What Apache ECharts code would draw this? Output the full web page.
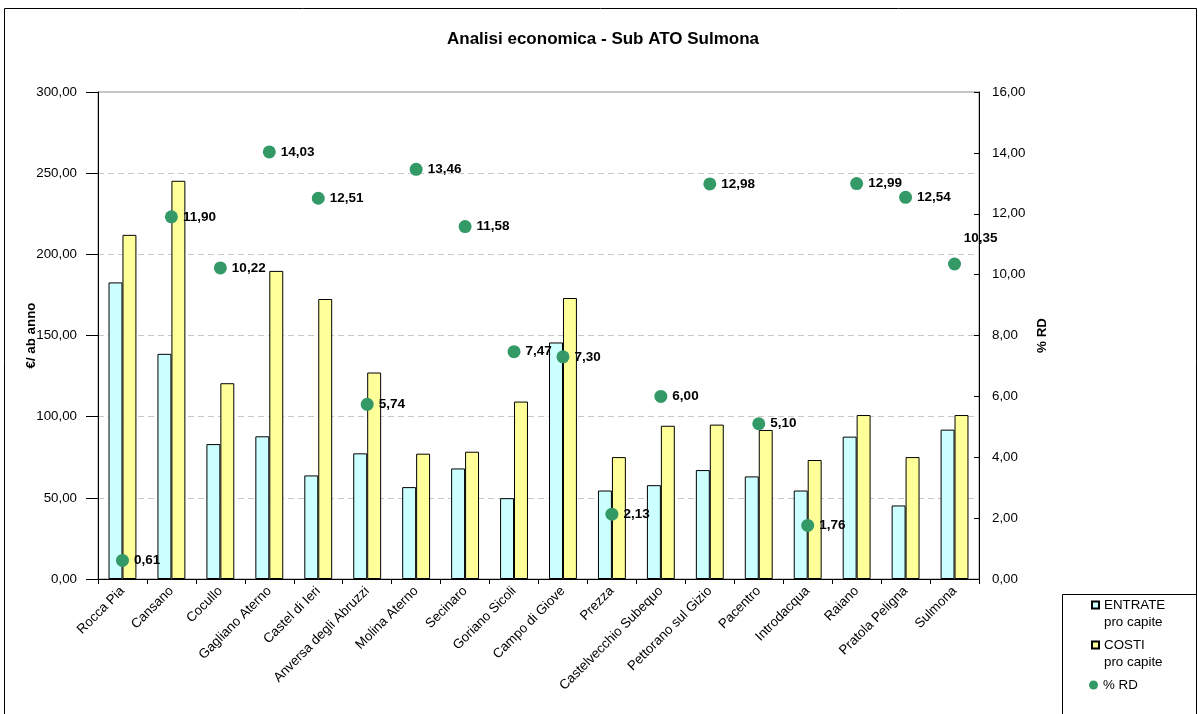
<!DOCTYPE html>
<html>
<head>
<meta charset="utf-8">
<script src="https://cdn.jsdelivr.net/npm/echarts@6/dist/echarts.min.js"></script>
<style>
html,body{margin:0;padding:0;background:#fff;}
#chart{width:1198px;height:714px;}
</style>
</head>
<body>
<div id="chart"></div>
<script>
const categories = ['Rocca Pia','Cansano','Cocullo','Gagliano Aterno','Castel di Ieri','Anversa degli Abruzzi','Molina Aterno','Secinaro','Goriano Sicoli','Campo di Giove','Prezza','Castelvecchio Subequo','Pettorano sul Gizio','Pacentro','Introdacqua','Raiano','Pratola Peligna','Sulmona'];
const entrate = [182.7, 138.7, 83.1, 87.9, 63.8, 77.4, 56.6, 68.1, 49.8, 145.7, 54.5, 57.8, 67.1, 63.2, 54.5, 87.7, 45.3, 92.0];
const costi = [212.0, 245.3, 120.6, 189.8, 172.5, 127.2, 77.2, 78.4, 109.3, 173.1, 75.1, 94.4, 95.1, 91.8, 73.3, 101.0, 75.1, 101.0];
const rd = [0.61, 11.90, 10.22, 14.03, 12.51, 5.74, 13.46, 11.58, 7.47, 7.30, 2.13, 6.00, 12.98, 5.10, 1.76, 12.99, 12.54, 10.35];

const FONT = '"Liberation Sans", Arial, sans-serif';
const fmt = v => Number(v).toFixed(2).replace('.', ',');

const rdData = rd.map((v, i) => {
  if (i === rd.length - 1) {
    return { value: v, label: { position: 'top', offset: [26, -7] } };
  }
  return v;
});

const chart = echarts.init(document.getElementById('chart'), null, { renderer: 'canvas' });
chart.setOption({
  animation: false,
  backgroundColor: '#fff',
  textStyle: { fontFamily: FONT },
  title: {
    text: 'Analisi economica - Sub ATO Sulmona',
    left: 447,
    top: 31,
    padding: 0,
    textStyle: { fontFamily: FONT, fontSize: 17, fontWeight: 'bold', color: '#000' }
  },
  graphic: [
    { type: 'rect', z: -10, shape: { x: 4.5, y: 8.5, width: 1192, height: 720 }, style: { fill: 'none', stroke: '#000', lineWidth: 1 } },
    { type: 'rect', z: -10, shape: { x: 1062.5, y: 594.5, width: 134, height: 130 }, style: { fill: '#fff', stroke: '#000', lineWidth: 1 } }
  ],
  grid: {
    left: 98, right: 219, top: 92, bottom: 135,
    show: true, borderColor: '#888', borderWidth: 1, backgroundColor: 'transparent'
  },
  legend: [
    {
      data: [{ name: 'ENTRATE', icon: 'rect' }], orient: 'vertical', left: 1091, top: 579.5, padding: 0,
      itemWidth: 7, itemHeight: 7,
      formatter: () => ' \nENTRATE\npro capite',
      textStyle: { fontFamily: FONT, fontSize: 13.33, lineHeight: 17, color: '#000' }
    },
    {
      data: [{ name: 'COSTI', icon: 'rect' }], orient: 'vertical', left: 1091, top: 619.5, padding: 0,
      itemWidth: 7, itemHeight: 7,
      formatter: () => ' \nCOSTI\npro capite',
      textStyle: { fontFamily: FONT, fontSize: 13.33, lineHeight: 17, color: '#000' }
    },
    {
      data: [{ name: '% RD', icon: 'circle' }], orient: 'vertical', left: 1089, top: 676.5, padding: 0,
      itemWidth: 9, itemHeight: 9,
      textStyle: { fontFamily: FONT, fontSize: 13.33, lineHeight: 17, color: '#000' }
    }
  ],
  xAxis: {
    type: 'category',
    data: categories,
    boundaryGap: true,
    axisLine: { lineStyle: { color: '#000', width: 1 } },
    axisTick: { show: true, length: 5, lineStyle: { color: '#000' } },
    axisLabel: { rotate: 45, interval: 0, margin: 10, color: '#000', fontFamily: FONT, fontSize: 13.33 },
    splitLine: { show: false }
  },
  yAxis: [
    {
      type: 'value', min: 0, max: 300, interval: 50,
      name: '€/ ab anno', nameLocation: 'middle', nameGap: 60, nameRotate: 90, nameMoveOverlap: false,
      nameTextStyle: { fontFamily: FONT, fontSize: 13.33, fontWeight: 'bold', color: '#000' },
      axisLine: { show: true, lineStyle: { color: '#000', width: 1 } },
      axisTick: { show: true, length: 12, lineStyle: { color: '#000' } },
      axisLabel: { margin: 21, color: '#000', fontFamily: FONT, fontSize: 13.33, formatter: fmt },
      splitLine: { show: true, lineStyle: { color: '#c8c8c8', type: [6, 4], width: 1 } }
    },
    {
      type: 'value', min: 0, max: 16, interval: 2, position: 'right',
      name: '% RD', nameLocation: 'middle', nameGap: 55, nameRotate: 90,
      nameTextStyle: { fontFamily: FONT, fontSize: 13.33, fontWeight: 'bold', color: '#000' },
      axisLine: { show: true, lineStyle: { color: '#000', width: 1 } },
      axisTick: { show: true, inside: true, length: 5, lineStyle: { color: '#000' } },
      axisLabel: { margin: 13, color: '#000', fontFamily: FONT, fontSize: 13.33, formatter: fmt },
      splitLine: { show: false }
    }
  ],
  series: [
    {
      name: 'ENTRATE', type: 'bar', yAxisIndex: 0, data: entrate,
      barGap: '0%', barCategoryGap: '43%',
      itemStyle: { color: '#CCFFFF', borderColor: '#000', borderWidth: 1 }
    },
    {
      name: 'COSTI', type: 'bar', yAxisIndex: 0, data: costi,
      barGap: '0%', barCategoryGap: '43%',
      itemStyle: { color: '#FFFF99', borderColor: '#000', borderWidth: 1 }
    },
    {
      name: '% RD', type: 'scatter', yAxisIndex: 1, data: rdData,
      symbol: 'circle', symbolSize: 13, z: 5,
      itemStyle: { color: '#339966', opacity: 1 },
      label: {
        show: true, position: 'right', distance: 5,
        formatter: p => fmt(p.value),
        fontFamily: FONT, fontSize: 13.5, fontWeight: 'bold', color: '#000', opacity: 1
      }
    }
  ]
});
</script>
</body>
</html>
